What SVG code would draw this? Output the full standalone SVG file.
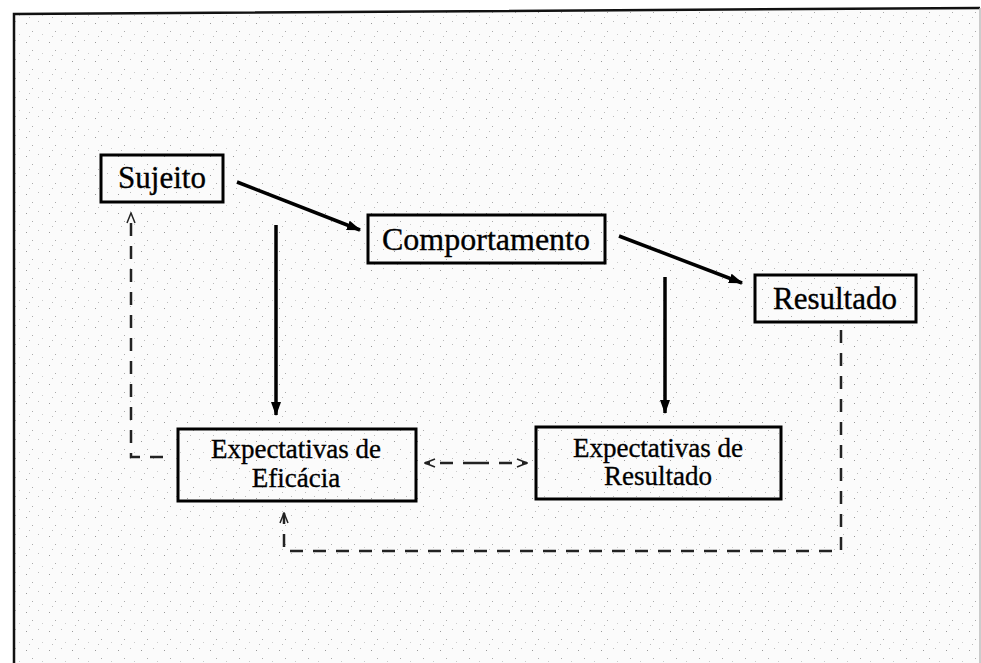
<svg xmlns="http://www.w3.org/2000/svg" width="981" height="663" viewBox="0 0 981 663">
  <defs>
    <style>
      .box { fill: none; stroke: #000; stroke-width: 3; }
      .lbl { font-family: "Liberation Serif", "Times New Roman", "DejaVu Serif", serif; fill: #000; stroke: #000; stroke-width: 0.35; text-anchor: middle; }
      .solid { stroke: #000; stroke-width: 3.5; fill: none; marker-end: url(#ah); }
      .dash { stroke: #222; stroke-width: 2.5; fill: none; stroke-dasharray: 13 10; }
    </style>
    <marker id="ah" viewBox="0 0 14 10" refX="13" refY="5" markerWidth="14" markerHeight="10" markerUnits="userSpaceOnUse" orient="auto">
      <path d="M0,0 L14,5 L0,10 Z" fill="#000"/>
    </marker>
    <marker id="oh" viewBox="0 0 12 10" refX="11" refY="5" markerWidth="12" markerHeight="10" markerUnits="userSpaceOnUse" orient="auto">
      <path d="M1,1 L11,5 L1,9" fill="none" stroke="#222" stroke-width="1.5"/>
    </marker>
    <pattern id="speck" width="23" height="19" patternUnits="userSpaceOnUse">
      <rect width="23" height="19" fill="#fbfbfb"/>
      <rect x="3" y="4" width="1" height="1" fill="#999"/>
      <rect x="15" y="2" width="1" height="1" fill="#bbb"/>
      <rect x="9" y="12" width="1" height="1" fill="#aaa"/>
      <rect x="19" y="15" width="1" height="1" fill="#ccc"/>
      <rect x="6" y="17" width="1" height="1" fill="#bbb"/>
    </pattern>
  </defs>
  <rect width="981" height="663" fill="#fff"/>
  <g id="frame">
    <path d="M15,14 L980,8 L980,663 L15,663 Z" fill="url(#speck)"/>
    <path d="M14,663 L14,14 L980,8" fill="none" stroke="#111" stroke-width="2.5"/>
    <path d="M980,8 L980,663" fill="none" stroke="#bbb" stroke-width="1.5"/>
  </g>
  <g id="connectors">
    <line class="solid" x1="237" y1="182" x2="360" y2="230"/>
    <line class="solid" x1="619" y1="236" x2="742" y2="283"/>
    <line class="solid" x1="276" y1="225" x2="276" y2="415"/>
    <line class="solid" x1="665" y1="277" x2="665" y2="413"/>
    <path class="dash" d="M163,457 L131,457 L131,213" marker-end="url(#oh)"/>
    <path class="dash" d="M841,330 L841,551 L284,551 L284,513" marker-end="url(#oh)"/>
    <path class="dash" d="M476,463 L425,463" marker-end="url(#oh)"/>
    <path class="dash" d="M476,463 L527,463" marker-end="url(#oh)"/>
  </g>
  <g id="sujeito">
    <rect class="box" x="101" y="155" width="122" height="47"/>
    <text class="lbl" x="162" y="188" font-size="31">Sujeito</text>
  </g>
  <g id="comportamento">
    <rect class="box" x="368" y="215" width="237" height="48"/>
    <text class="lbl" x="486" y="250" font-size="32">Comportamento</text>
  </g>
  <g id="resultado">
    <rect class="box" x="755" y="275" width="161" height="47"/>
    <text class="lbl" x="835" y="309" font-size="31">Resultado</text>
  </g>
  <g id="exp-eficacia">
    <rect class="box" x="178" y="429" width="238" height="72"/>
    <text class="lbl" x="296" y="458" font-size="27">Expectativas de</text>
    <text class="lbl" x="296" y="487" font-size="27">Eficácia</text>
  </g>
  <g id="exp-resultado">
    <rect class="box" x="536" y="427" width="245" height="72"/>
    <text class="lbl" x="658" y="457" font-size="27">Expectativas de</text>
    <text class="lbl" x="658" y="485" font-size="27">Resultado</text>
  </g>
</svg>
